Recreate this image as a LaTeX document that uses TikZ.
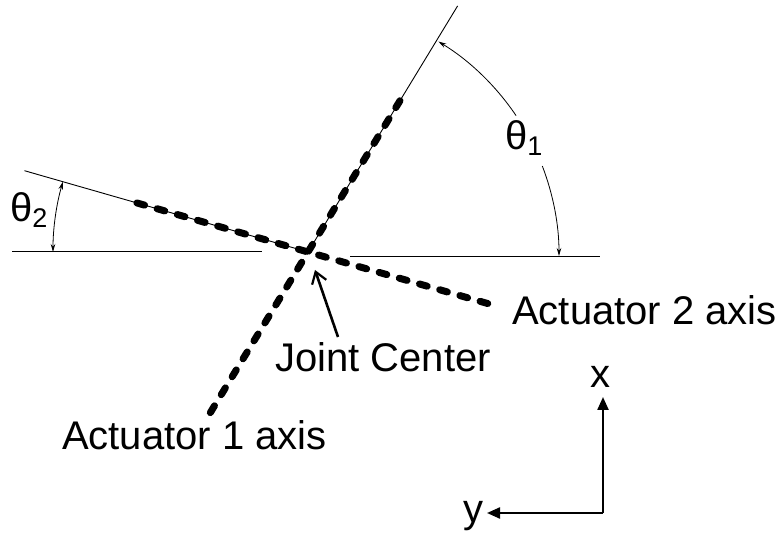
\documentclass[tikz,border=0pt]{standalone}
\usepackage{fontspec}
\setmainfont{Liberation Sans}
\usetikzlibrary{arrows.meta,positioning,calc}
\tikzset{
  thinln/.style={line width=0.9pt},
  actdash/.style={line width=7pt, line cap=round, dash pattern=on 8pt off 13pt},
  angarr/.style={line width=0.8pt},
  ptarr/.style={-{Straight Barb[length=11pt,width=15pt,line width=2.2pt]}, line width=2.6pt},
  framearr/.style={-{Triangle[length=13pt,width=11pt]}, line width=2.3pt},
  lbl/.style={font=\fontsize{40}{46}\selectfont, inner sep=0pt}
}
\newcommand{\angtip}{Stealth[length=8pt,width=4.5pt]}

\begin{document}
\begin{tikzpicture}[x=1pt,y=1pt]
\useasboundingbox (0,0) rectangle (777,536);
% joint center and axis ends
\coordinate (jc) at (308,284);
\coordinate (a1top) at ($(jc)+(58.7:288)$);
\coordinate (a1lo) at ($(jc)+(238.7:188)$);
\coordinate (a1hi) at ($(jc)+(58.7:178)$);
\coordinate (a2left) at ($(jc)+(164:295)$);
\coordinate (a2lo) at ($(jc)+(164:178)$);
\coordinate (a2hi) at ($(jc)+(-16:188)$);
% horizontal references
\coordinate (hl1) at (12,285); \coordinate (hl2) at (262,285);
\coordinate (hr1) at (350,280); \coordinate (hr2) at (600,280);
\draw[thinln] (hl1)--(hl2); \draw[thinln] (hr1)--(hr2);
\draw[thinln] (jc)--(a1top); \draw[thinln] (a2left)--(jc);
\draw[actdash] (a1lo)--(a1hi);
\draw[actdash] (a2lo)--(a2hi);
% angles
\coordinate (t2s) at ($(jc)+(180:255)$);
\draw[angarr, {\angtip}-{\angtip}] (t2s) arc[start angle=180, end angle=164, radius=255pt];
\coordinate (t1s) at (559,280);
\coordinate (t1m) at ($(308,280)+(34:251)$);
\draw[angarr, {\angtip}-] (t1s) arc[start angle=0, end angle=21, radius=251pt];
\draw[angarr, -{\angtip}] (t1m) arc[start angle=34, end angle=58.7, radius=251pt];
\node[lbl, anchor=base west] (th2) at (10,314) {θ\raisebox{-0.14em}{\fontsize{27}{27}\selectfont 2}};
\node[lbl, anchor=base west] (th1) at (505,386) {θ\raisebox{-0.14em}{\fontsize{27}{27}\selectfont 1}};
% labels
\node[lbl, anchor=base west] (act2) at (512,211) {Actuator 2 axis};
\node[lbl, anchor=base west] (act1) at (62,86) {Actuator 1 axis};
\node[lbl, anchor=base west] (jclbl) at (275,164) {Joint Center};
\coordinate (jctail) at (338,199); \coordinate (jctip) at (315,266);
\draw[ptarr] (jctail)--(jctip);
% frame
\coordinate (fo) at (603,23);
\coordinate (fx) at (603,139); \coordinate (fy) at (487,23);
\draw[framearr] (fo)--(fx); \draw[framearr] (fo)--(fy);
\node[lbl, anchor=base] (xl) at (600,148) {x};
\node[lbl, anchor=base] (yl) at (473,13) {y};
\end{tikzpicture}
\end{document}
